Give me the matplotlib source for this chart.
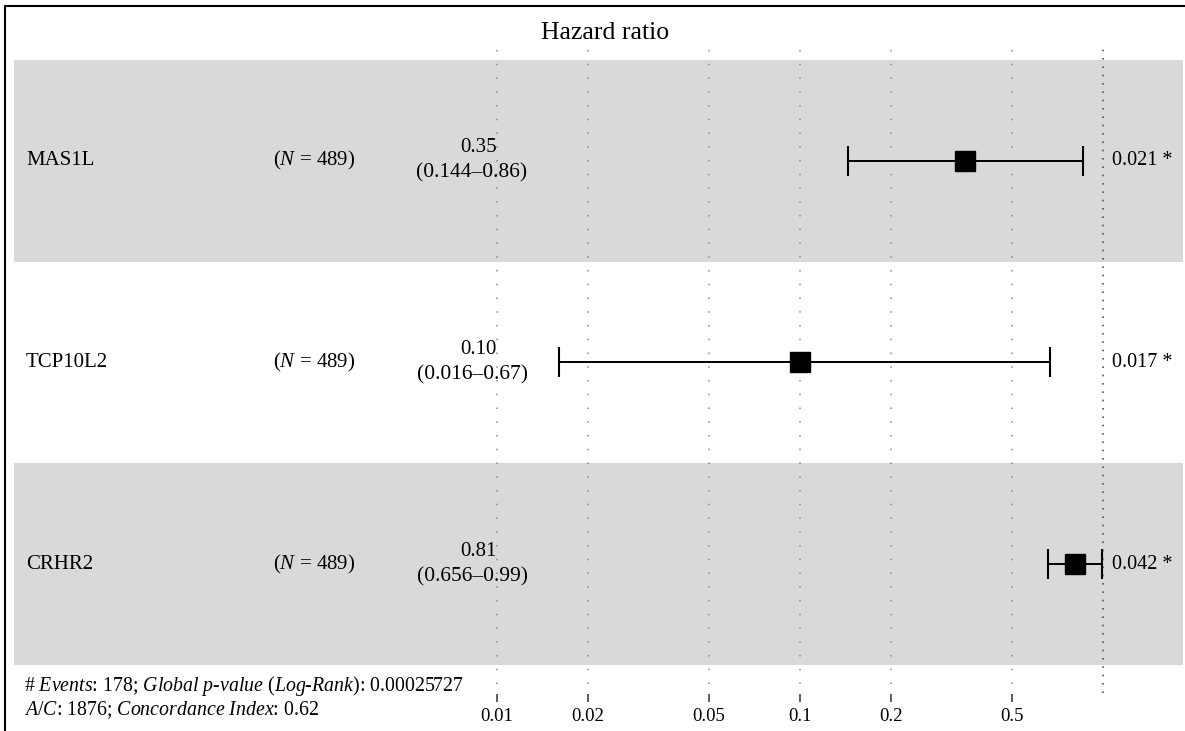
import matplotlib
matplotlib.use("Agg")
import matplotlib.pyplot as plt
from matplotlib.transforms import blended_transform_factory
from matplotlib.lines import Line2D

plt.rcParams['font.family'] = ['Liberation Serif', 'DejaVu Serif']
plt.rcParams['mathtext.fontset'] = 'custom'
plt.rcParams['mathtext.rm'] = 'Liberation Serif'
plt.rcParams['mathtext.it'] = 'Liberation Serif:italic'

# data
genes = ["MAS1L", "TCP10L2", "CRHR2"]
n_obs = [489, 489, 489]
hr = [0.35, 0.10, 0.81]
hr_labels = ["0.35", "0.10", "0.81"]
ci_low = [0.144, 0.016, 0.656]
ci_high = [0.86, 0.67, 0.99]
ci_labels = ["(0.144\u20130.86)", "(0.016\u20130.67)", "(0.656\u20130.99)"]
p_labels = ["0.021 *", "0.017 *", "0.042 *"]
breaks = [0.01, 0.02, 0.05, 0.1, 0.2, 0.5]
break_labels = ["0.01", "0.02", "0.05", "0.1", "0.2", "0.5"]
footer1 = "# $Events$: 178; $Global$ $p$-$value$ ($Log$-$Rank$): 0.00025727"
footer2 = "$A/C$: 1876; $Concordance$ $Index$: 0.62"

rows = [3, 2, 1]
W, H = 1185, 731

fig = plt.figure(figsize=(W / 100, H / 100), dpi=100)
fig.patch.set_facecolor('white')
fig.patch.set_edgecolor('none')
fig.patch.set_linewidth(0)
ax = fig.add_axes([0, 0, 1, 1])
ax.set_xscale('log')
ax.set_xlim(10 ** -3.640, 10 ** 0.2706)
ax.set_ylim(0.173, 3.797)
ax.axis('off')
tr = blended_transform_factory(ax.transAxes, ax.transData)

# alternating bands
for i, y in enumerate(rows):
    if i % 2 == 0:
        ax.axhspan(y - 0.5, y + 0.5, xmin=14 / W, xmax=1183 / W, color='#d9d9d9', lw=0, zorder=0)

# grid lines, reference line, ticks
ax.vlines(breaks, 0.406, 3.569, colors='#8a8a8a', lw=1.1, linestyles=[(0, (1, 8))], zorder=1)
ax.vlines([1], 0.362, 3.569, colors='#555555', lw=1.2, linestyles=[(0, (1, 4))], zorder=1)
ax.vlines(breaks, 0.317, 0.357, colors='#333333', lw=1.1, zorder=1)
for b, lab in zip(breaks, break_labels):
    ax.text(b, 0.245, lab, ha='center', va='center', fontsize=13.5)

# estimates
xerr = [[h - l for h, l in zip(hr, ci_low)], [u - h for h, u in zip(hr, ci_high)]]
ax.errorbar(hr, rows, xerr=xerr, fmt='s', color='black', ms=14.4, capsize=10.8,
            elinewidth=1.4, capthick=1.5, zorder=3)

for y, g, n, h, ci, p in zip(rows, genes, n_obs, hr_labels, ci_labels, p_labels):
    ax.text(26 / W, y, g, transform=tr, ha='left', va='center', fontsize=15)
    ax.text(314 / W, y, "($N$ = %d)" % n, transform=tr, ha='center', va='center', fontsize=15)
    ax.text(497 / W, y + 0.064, h, transform=tr, ha='right', va='center', fontsize=15)
    ax.text(472 / W, y - 0.062, ci, transform=tr, ha='center', va='center', fontsize=15.5)
    ax.text(1112 / W, y, p, transform=tr, ha='left', va='center', fontsize=14.5)

ax.text(605 / W, 3.634, "Hazard ratio", transform=tr, ha='center', va='center', fontsize=18.5)
ax.text(24 / W, 0.396, footer1, transform=tr, ha='left', va='center', fontsize=14.3)
ax.text(24 / W, 0.277, footer2, transform=tr, ha='left', va='center', fontsize=14.3)

# outer frame (only top and left edges fall inside the image)
fig.lines.append(Line2D([5 / W, 5 / W, 1], [0, 1 - 6 / H, 1 - 6 / H], transform=fig.transFigure,
                        color='black', lw=1.5))

fig.savefig("out.png", dpi=100, facecolor='white', edgecolor='none')
